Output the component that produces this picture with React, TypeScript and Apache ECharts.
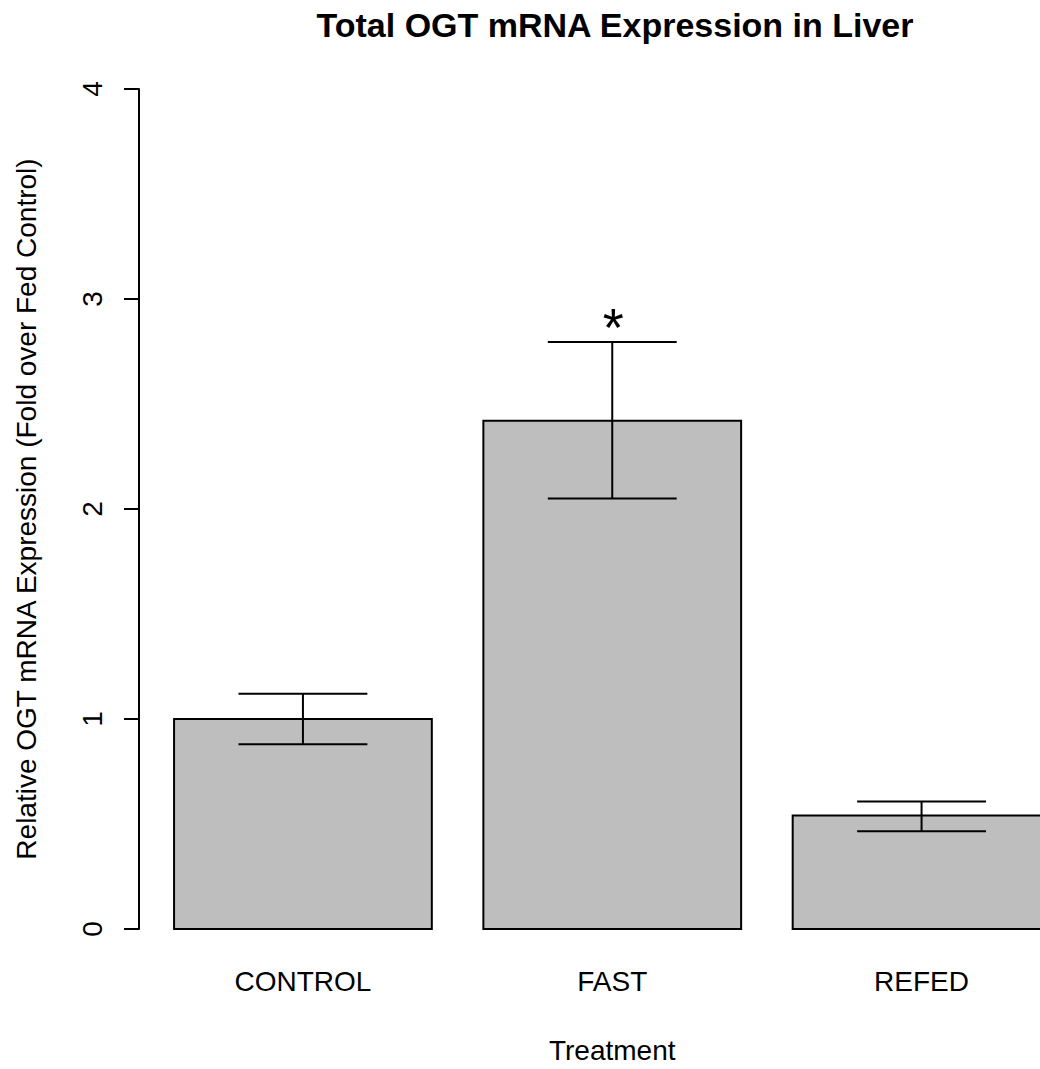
import React, { useEffect, useRef } from "react";
import * as echarts from "echarts";

// Treatment groups and their relative OGT expression (fold over fed control)
const categories = ["CONTROL", "FAST", "REFED"];
const meanExpression = [1.0, 2.42, 0.54];
const errorLower = [0.88, 2.05, 0.465];
const errorUpper = [1.12, 2.795, 0.607];
const significance = ["", "*", ""];
const yTicks = [0, 1, 2, 3, 4];

// barplot-style geometry: unit-width bars separated by 0.2 of a bar
const BAR_WIDTH = 1;
const BAR_SPACE = 0.2;
const barLeft = (i: number) => BAR_SPACE + i * (BAR_WIDTH + BAR_SPACE);
const barMid = (i: number) => barLeft(i) + BAR_WIDTH / 2;
const span0 = barLeft(0);
const span1 = barLeft(categories.length - 1) + BAR_WIDTH;
const pad = (span1 - span0) * 0.04;
const X_MIN = span0 - pad;
const X_MAX = span1 + pad;

const FONT = "'Liberation Sans', Arial, Helvetica, sans-serif";
const LABEL_SIZE = 28;

export default function App() {
  const ref = useRef<HTMLDivElement>(null);

  useEffect(() => {
    if (!ref.current) return;
    const chart = echarts.init(ref.current, null, { renderer: "svg" });

    const data = categories.map((_, i) => [
      i,
      meanExpression[i],
      errorLower[i],
      errorUpper[i],
    ]);

    chart.setOption({
      animation: false,
      backgroundColor: "#ffffff",
      title: {
        text: "Total OGT mRNA Expression in Liver",
        left: 615,
        top: 8,
        textAlign: "center",
        padding: 0,
        textStyle: {
          fontFamily: FONT,
          fontSize: 34,
          fontWeight: "bold",
          color: "#000",
        },
      },
      grid: { left: 139, top: 89, bottom: 135, right: 1100 - 1085.5 },
      xAxis: {
        type: "value",
        min: X_MIN,
        max: X_MAX,
        name: "Treatment",
        nameLocation: "middle",
        nameGap: 107,
        nameTextStyle: { fontFamily: FONT, fontSize: LABEL_SIZE, color: "#000" },
        axisLine: { show: false },
        axisTick: { show: false },
        splitLine: { show: false },
        axisLabel: { show: false },
      },
      yAxis: {
        type: "value",
        min: yTicks[0],
        max: yTicks[yTicks.length - 1],
        interval: 1,
        name: "Relative OGT mRNA Expression (Fold over Fed Control)",
        nameLocation: "middle",
        nameGap: 99,
        nameTextStyle: { fontFamily: FONT, fontSize: LABEL_SIZE, color: "#000" },
        axisLine: { show: true, lineStyle: { color: "#000", width: 2 } },
        axisTick: {
          show: true,
          inside: false,
          length: 15,
          lineStyle: { color: "#000", width: 2 },
        },
        splitLine: { show: false },
        axisLabel: {
          rotate: 90,
          margin: 33,
          fontFamily: FONT,
          fontSize: LABEL_SIZE,
          color: "#000",
        },
      },
      series: [
        {
          type: "custom",
          data,
          renderItem: (_params: any, api: any) => {
            const i = api.value(0);
            const left = barLeft(i);
            const right = left + BAR_WIDTH;
            const mid = barMid(i);
            const capHalf = BAR_WIDTH / 4;
            const top = api.coord([left, api.value(1)]);
            const base = api.coord([right, 0]);
            const foot = api.coord([mid, 0]);
            const lo = api.coord([mid, api.value(2)]);
            const hi = api.coord([mid, api.value(3)]);
            const capL = api.coord([mid - capHalf, api.value(3)])[0];
            const capR = api.coord([mid + capHalf, api.value(3)])[0];
            const lineStyle = { stroke: "#000", lineWidth: 2 };
            const children: any[] = [
              {
                type: "rect",
                shape: {
                  x: top[0],
                  y: top[1],
                  width: base[0] - top[0],
                  height: base[1] - top[1],
                },
                style: { fill: "#BEBEBE", stroke: "#000", lineWidth: 2 },
              },
              {
                type: "line",
                shape: { x1: lo[0], y1: lo[1], x2: hi[0], y2: hi[1] },
                style: lineStyle,
              },
              {
                type: "line",
                shape: { x1: capL, y1: hi[1], x2: capR, y2: hi[1] },
                style: lineStyle,
              },
              {
                type: "line",
                shape: { x1: capL, y1: lo[1], x2: capR, y2: lo[1] },
                style: lineStyle,
              },
              // category name under the bar
              {
                type: "text",
                x: foot[0],
                y: foot[1] + 38,
                style: {
                  text: categories[i],
                  fontFamily: FONT,
                  fontSize: LABEL_SIZE,
                  fill: "#000",
                  align: "center",
                  verticalAlign: "top",
                },
              },
            ];
            const mark = significance[i];
            if (mark) {
              children.push({
                type: "text",
                x: hi[0] + 1,
                y: hi[1] - 15,
                style: {
                  text: mark,
                  fontFamily: FONT,
                  fontSize: 54,
                  fill: "#000",
                  align: "center",
                  verticalAlign: "middle",
                },
              });
            }
            return { type: "group", children };
          },
        },
      ],
    });

    return () => chart.dispose();
  }, []);

  return (
    <div
      style={{
        position: "fixed",
        left: 0,
        top: 0,
        width: 1040,
        height: 1069,
        overflow: "hidden",
        background: "#fff",
      }}
    >
      <div ref={ref} style={{ width: 1100, height: 1069 }} />
    </div>
  );
}
